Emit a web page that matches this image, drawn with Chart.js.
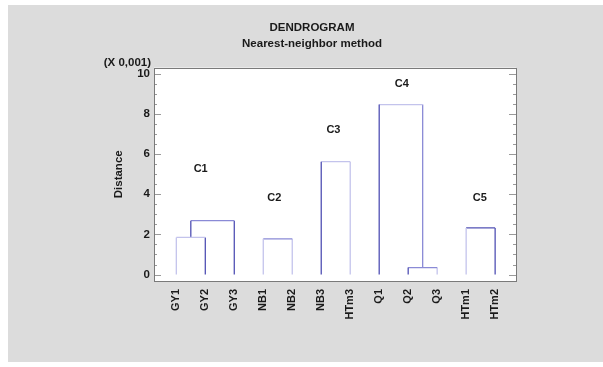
<!DOCTYPE html>
<html>
<head>
<meta charset="utf-8">
<script src="https://cdn.jsdelivr.net/npm/chart.js@4"></script>
<style>
  body { margin: 0; background: #fff; }
  #wrap { position: relative; width: 603px; height: 367px; }
</style>
</head>
<body>
<div id="wrap"><canvas id="dendro" width="603" height="367"></canvas></div>
<script>
// leaves in drawing order
const leaves = ['GY1', 'GY2', 'GY3', 'NB1', 'NB2', 'NB3', 'HTm3', 'Q1', 'Q2', 'Q3', 'HTm1', 'HTm2'];

// merges: children (leaf name or M<index>) and merge distance (x 0,001)
const mergeA = ['GY1', 'M0', 'NB1', 'NB3', 'Q2', 'Q1', 'HTm1'];
const mergeB = ['GY2', 'GY3', 'NB2', 'HTm3', 'Q3', 'M4', 'HTm2'];
const mergeHeight = [1.85, 2.68, 1.78, 5.62, 0.35, 8.46, 2.32];

// cluster labels
const clusterNames = ['C1', 'C2', 'C3', 'C4', 'C5'];
const clusterX = [0.84, 3.38, 5.42, 7.78, 10.47];
const clusterY = [5.24, 3.79, 7.21, 9.48, 3.8];

const yTicks = [0, 2, 4, 6, 8, 10];

const light = '#c3c3ec', mid = '#8a8ad6', dark = '#5050b4';
// colour of [left leg, bar, right leg] for each merge
const mergeColors = [
    [light, light, dark],
    [dark, mid, dark],
    [light, mid, light],
    [dark, light, light],
    [dark, mid, light],
    [dark, light, mid],
    [light, dark, dark]
];

function nodePos(name) {
    if (name.startsWith('M')) {
        const i = +name.slice(1);
        return { x: (nodePos(mergeA[i]).x + nodePos(mergeB[i]).x) / 2, y: mergeHeight[i] };
    }
    return { x: leaves.indexOf(name), y: 0 };
}

const datasets = [];
mergeHeight.forEach((h, i) => {
    const a = nodePos(mergeA[i]), b = nodePos(mergeB[i]);
    const segs = [
        [{ x: a.x, y: a.y }, { x: a.x, y: h }],
        [{ x: a.x, y: h }, { x: b.x, y: h }],
        [{ x: b.x, y: b.y }, { x: b.x, y: h }]
    ];
    segs.forEach((s, k) => {
        datasets.push({
            data: s,
            showLine: true,
            borderColor: mergeColors[i][k],
            borderWidth: 1.3,
            pointRadius: 0,
            fill: false
        });
    });
});

const FONT = "'Liberation Sans', Arial, sans-serif";

const decor = {
    id: 'decor',
    beforeDraw(chart) {
        const { ctx, chartArea: a } = chart;
        ctx.save();
        ctx.fillStyle = '#dcdcdc';
        ctx.fillRect(8, 5, 595, 357);
        ctx.fillStyle = '#ffffff';
        ctx.fillRect(a.left, a.top, a.right - a.left, a.bottom - a.top);
        ctx.restore();
    },
    afterDraw(chart) {
        const { ctx, chartArea: a, scales } = chart;
        const y = scales.y, x = scales.x;
        ctx.save();
        // inner ticks on both sides
        ctx.strokeStyle = '#9a9a9a';
        ctx.lineWidth = 1;
        for (let v = 0; v <= 10.001; v += 0.5) {
            const py = Math.round(y.getPixelForValue(v)) + 0.5;
            const len = (v % 2 === 0) ? 7 : 3;
            ctx.beginPath();
            ctx.moveTo(a.left, py); ctx.lineTo(a.left + len, py);
            ctx.moveTo(a.right, py); ctx.lineTo(a.right - len, py);
            ctx.stroke();
        }
        // frame
        ctx.strokeStyle = '#7a7a7a';
        ctx.strokeRect(Math.round(a.left) + 0.5, Math.round(a.top) + 0.5,
            Math.round(a.right - a.left), Math.round(a.bottom - a.top));
        // scale note
        ctx.fillStyle = '#1a1a1a';
        ctx.font = 'bold 11.5px ' + FONT;
        ctx.textAlign = 'right';
        ctx.textBaseline = 'alphabetic';
        ctx.fillText('(X 0,001)', a.left - 3, a.top - 2);
        // cluster labels
        ctx.textAlign = 'center';
        ctx.textBaseline = 'middle';
        ctx.font = 'bold 11px ' + FONT;
        clusterNames.forEach((n, i) => {
            ctx.fillText(n, x.getPixelForValue(clusterX[i]), y.getPixelForValue(clusterY[i]));
        });
        ctx.restore();
    }
};

new Chart(document.getElementById('dendro'), {
    type: 'scatter',
    data: { datasets: datasets },
    plugins: [decor],
    options: {
        responsive: false,
        animation: false,
        layout: { padding: { left: 108, right: 87, top: 0, bottom: 0 } },
        plugins: {
            legend: { display: false },
            tooltip: { enabled: false },
            title: {
                display: true,
                text: 'DENDROGRAM',
                color: '#1a1a1a',
                font: { family: FONT, size: 11.5, weight: 'bold' },
                padding: { top: 21, bottom: 2 }
            },
            subtitle: {
                display: true,
                text: 'Nearest-neighbor method',
                color: '#1a1a1a',
                font: { family: FONT, size: 11.5, weight: 'bold' },
                padding: { top: 0, bottom: 17 }
            }
        },
        scales: {
            x: {
                type: 'linear',
                min: -0.77,
                max: 11.72,
                grid: { display: false, drawTicks: false },
                border: { display: false },
                afterBuildTicks: s => { s.ticks = leaves.map((_, i) => ({ value: i })); },
                afterFit: s => { s.height = 86; },
                ticks: {
                    autoSkip: false,
                    minRotation: 90,
                    maxRotation: 90,
                    padding: 8,
                    color: '#1a1a1a',
                    font: { family: FONT, size: 11, weight: 'bold' },
                    callback: v => leaves[v]
                }
            },
            y: {
                min: -0.32,
                max: 10.3,
                grid: { display: false, drawTicks: false },
                border: { display: false },
                afterBuildTicks: s => { s.ticks = yTicks.map(v => ({ value: v })); },
                afterFit: s => { s.width = 46; },
                title: {
                    display: true,
                    text: 'Distance',
                    color: '#1a1a1a',
                    font: { family: FONT, size: 11.5, weight: 'bold' },
                    padding: { top: 4, bottom: 4 }
                },
                ticks: {
                    padding: 4,
                    color: '#1a1a1a',
                    font: { family: FONT, size: 11.5, weight: 'bold' }
                }
            }
        }
    }
});
</script>
</body>
</html>
